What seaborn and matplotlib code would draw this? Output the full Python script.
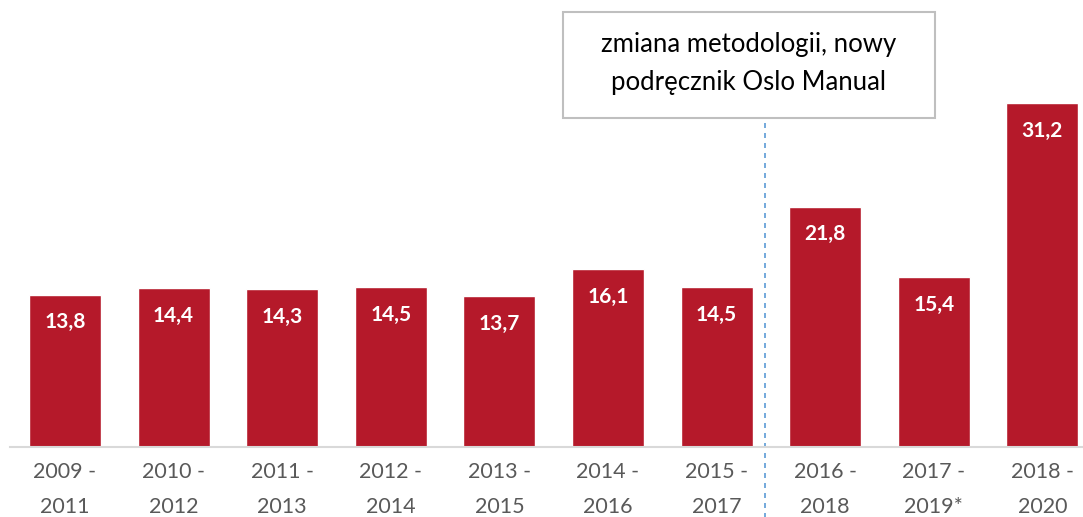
import matplotlib
matplotlib.use("Agg")
import matplotlib.pyplot as plt
from matplotlib.patches import Rectangle
import seaborn as sns
import pandas as pd

# dane
okresy = ["2009 -\n2011", "2010 -\n2012", "2011 -\n2013", "2012 -\n2014", "2013 -\n2015",
          "2014 -\n2016", "2015 -\n2017", "2016 -\n2018", "2017 -\n2019*", "2018 -\n2020"]
wartosci = [13.8, 14.4, 14.3, 14.5, 13.7, 16.1, 14.5, 21.8, 15.4, 31.2]
adnotacja = "zmiana metodologii, nowy\npodręcznik Oslo Manual"

df = pd.DataFrame({"okres": okresy, "wartosc": wartosci})

sns.set_style("white")
plt.rcParams["font.family"] = ["Lato", "DejaVu Sans"]

W, H = 1083, 517
fig = plt.figure(figsize=(W / 100, H / 100), dpi=100)
ax = fig.add_axes([10 / W, 70 / H, 1073 / W, 441 / H])

sns.barplot(data=df, x="okres", y="wartosc", color="#B5192A", width=0.663,
            saturation=1, ax=ax)

ax.set_xlim(-0.506, 9.374)
ax.set_ylim(0, 40)

# etykiety wartosci w slupkach
for i, v in enumerate(wartosci):
    ax.text(i, v - 2.5, f"{v:.1f}".replace(".", ","), ha="center", va="center",
            color="white", fontsize=15, fontweight="bold")

ax.set_xlabel("")
ax.set_ylabel("")
ax.set_yticks([])
ax.tick_params(axis="x", length=0, pad=11, labelsize=15.5, labelcolor="#595959")
for lab in ax.get_xticklabels():
    lab.set_linespacing(1.9)
for s in ["top", "right", "left"]:
    ax.spines[s].set_visible(False)
ax.spines["bottom"].set_color("#D9D9D9")
ax.spines["bottom"].set_linewidth(1.5)

# linia zmiany metodologii
ax.plot([6.45, 6.45], [-7, 29.8], ls=(0, (3, 3)), color="#5B9BD5", lw=1.2, clip_on=False)

# ramka z opisem
fig.patches.append(Rectangle((563 / W, 1 - 118 / H), 372 / W, 106 / H,
                             transform=fig.transFigure, fc="white", ec="#BFBFBF", lw=1.5))
fig.text(749 / W, 1 - 63.5 / H, adnotacja, ha="center", va="center", fontsize=18.5,
         color="black", linespacing=1.68)

fig.savefig("out.png", dpi=100)
